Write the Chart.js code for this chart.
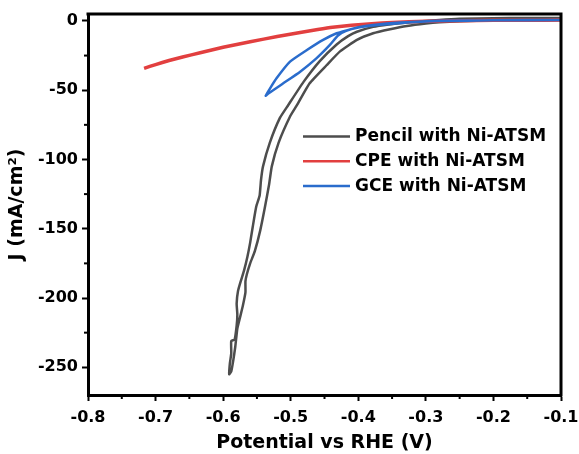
<!DOCTYPE html>
<html><head><meta charset="utf-8">
<script src="https://cdn.jsdelivr.net/npm/chart.js@4/dist/chart.umd.min.js"></script>
<style>html,body{margin:0;padding:0;background:#fff;}</style>
</head><body>
<canvas id="c" width="579" height="454"></canvas>
<script>
// ---- data ----
const seriesNames = ['Pencil with Ni-ATSM', 'CPE with Ni-ATSM', 'GCE with Ni-ATSM'];

const pencilV = [-0.10,-0.15,-0.20,-0.25,-0.28,-0.31,-0.33,-0.355,-0.378,-0.402,-0.415,-0.432,-0.457,-0.481,-0.504,-0.516,-0.531,-0.541,-0.544,-0.546,-0.551,-0.556,-0.560,-0.564,-0.569,-0.574,-0.578,-0.580,-0.579,-0.580,-0.583,-0.588,-0.588,-0.590,-0.591,
                 -0.588,-0.585,-0.582,-0.579,-0.575,-0.571,-0.567,-0.567,-0.565,-0.560,-0.553,-0.545,-0.538,-0.532,-0.528,-0.518,-0.501,-0.491,-0.472,-0.447,-0.427,-0.402,-0.378,-0.353,-0.328,-0.30,-0.28,-0.25,-0.20,-0.15,-0.10];
const pencilJ = [2.2,2.1,2.0,1.5,0.7,-0.4,-1.3,-2.6,-4.3,-7.8,-11,-17,-29,-44,-61,-70,-88,-105,-115,-126,-134,-148,-160,-170,-180,-188,-195,-204,-212,-220,-230,-231,-240,-247,-255,
                 -253,-245,-235,-222,-214,-206,-196,-188,-183,-175,-166,-151,-134,-118,-105,-88,-69,-61,-45,-32,-22,-13.7,-8.9,-6,-3.6,-1.8,-0.9,-0.2,0.3,0.5,0.6];

const cpeV = [-0.717,-0.70,-0.68,-0.66,-0.634,-0.60,-0.56,-0.52,-0.486,-0.46,-0.438,-0.41,-0.38,-0.35,-0.30,-0.25,-0.20,-0.15,-0.10];
const cpeJ = [-34.2,-31.5,-28.6,-26,-23,-19,-15,-11.3,-8.3,-6.2,-4.6,-3.2,-2.0,-1.1,-0.2,0.2,0.4,0.5,0.6];

const gceV = [-0.10,-0.20,-0.28,-0.338,-0.378,-0.40,-0.415,-0.432,-0.452,-0.476,-0.501,-0.521,-0.531,-0.537,
              -0.532,-0.511,-0.486,-0.462,-0.442,-0.430,-0.418,-0.40,-0.378,-0.34,-0.28,-0.20,-0.10];
const gceJ = [0.7,0.5,0.2,-1.2,-2.9,-4.5,-6.5,-8.9,-13.7,-21,-29.4,-41.4,-49,-54,
              -52,-45,-36.6,-27,-17.3,-10.5,-7.2,-4.8,-3.3,-1.6,-0.1,0.4,0.6];

const xTicks = [-0.8,-0.7,-0.6,-0.5,-0.4,-0.3,-0.2,-0.1];
const xMinorTicks = [-0.75,-0.65,-0.55,-0.45,-0.35,-0.25,-0.15];
const yTicks = [0,-50,-100,-150,-200,-250];
const yMinorTicks = [-25,-75,-125,-175,-225];
const xTitle = 'Potential vs RHE (V)';
const yTitle = 'J (mA/cm²)';

// ---- styling ----
const colors = ['#4d4d4d', '#e23f3f', '#2a6ccc'];
const FONT = 'DejaVu Sans';
const pts = (xs, ys) => xs.map((x, i) => ({x: x, y: ys[i]}));

const framePlugin = {
  id: 'frame',
  afterDraw(chart) {
    const {ctx, chartArea: a, scales: {x, y}} = chart;
    ctx.save();
    ctx.strokeStyle = '#000';
    ctx.lineWidth = 3;
    ctx.beginPath();
    ctx.moveTo(a.left - 1.5, a.top);
    ctx.lineTo(a.right, a.top);
    ctx.lineTo(a.right, a.bottom + 1.5);
    ctx.stroke();
    ctx.lineWidth = 2;
    xMinorTicks.forEach(v => {
      const px = x.getPixelForValue(v);
      ctx.beginPath(); ctx.moveTo(px, a.bottom); ctx.lineTo(px, a.bottom + 4); ctx.stroke();
    });
    yMinorTicks.forEach(v => {
      const py = y.getPixelForValue(v);
      ctx.beginPath(); ctx.moveTo(a.left, py); ctx.lineTo(a.left - 4, py); ctx.stroke();
    });
    ctx.restore();
  }
};

const legendPlugin = {
  id: 'innerLegend',
  afterDraw(chart) {
    const {ctx, chartArea: a} = chart;
    ctx.save();
    ctx.font = 'bold 17px "' + FONT + '"';
    ctx.textBaseline = 'middle';
    ctx.fillStyle = '#000';
    chart.data.datasets.forEach((ds, i) => {
      const yy = a.top + 122.5 + i * 24.8;
      const x0 = a.left + 215;
      ctx.strokeStyle = ds.borderColor;
      ctx.lineWidth = 2.5;
      ctx.beginPath(); ctx.moveTo(x0, yy); ctx.lineTo(x0 + 47, yy); ctx.stroke();
      ctx.fillText(ds.label, x0 + 52, yy);
    });
    ctx.restore();
  }
};

new Chart(document.getElementById('c'), {
  type: 'scatter',
  data: {
    datasets: [
      {label: seriesNames[0], data: pts(pencilV, pencilJ), borderColor: colors[0], borderWidth: 2.5, order: 3},
      {label: seriesNames[1], data: pts(cpeV, cpeJ), borderColor: colors[1], borderWidth: 3.5, order: 2},
      {label: seriesNames[2], data: pts(gceV, gceJ), borderColor: colors[2], borderWidth: 2.5, order: 1}
    ].map(d => Object.assign(d, {showLine: true, pointRadius: 0, fill: false, tension: 0.15, backgroundColor: d.borderColor}))
  },
  options: {
    responsive: false,
    animation: false,
    layout: {padding: {left: 0, right: 18, top: 14, bottom: 0}},
    plugins: {legend: {display: false}, tooltip: {enabled: false}},
    scales: {
      x: {
        type: 'linear', min: -0.8, max: -0.1,
        afterBuildTicks: s => { s.ticks = xTicks.map(v => ({value: v})); },
        afterFit: s => { s.height = 59; s.paddingLeft = 0; s.paddingRight = 0; },
        ticks: {color: '#000', padding: 7, maxRotation: 0, font: {family: FONT, weight: 'bold', size: 16},
                callback: v => v.toFixed(1)},
        grid: {drawOnChartArea: false, drawTicks: true, tickLength: 6, tickWidth: 2, tickColor: '#000'},
        border: {display: true, width: 3, color: '#000'},
        title: {display: true, text: xTitle, color: '#000', padding: {top: 0, bottom: 0}, font: {family: FONT, weight: 'bold', size: 19}}
      },
      y: {
        type: 'linear', min: -270, max: 5,
        afterBuildTicks: s => { s.ticks = yTicks.map(v => ({value: v})); },
        afterFit: s => { s.width = 88; s.paddingTop = 0; s.paddingBottom = 0; },
        ticks: {color: '#000', padding: 4, font: {family: FONT, weight: 'bold', size: 16},
                callback: v => String(v)},
        grid: {drawOnChartArea: false, drawTicks: true, tickLength: 6, tickWidth: 2, tickColor: '#000'},
        border: {display: true, width: 3, color: '#000'},
        title: {display: true, text: yTitle, color: '#000', padding: {top: 6, bottom: 0}, font: {family: FONT, weight: 'bold', size: 19}}
      }
    }
  },
  plugins: [framePlugin, legendPlugin]
});
</script>
</body></html>
